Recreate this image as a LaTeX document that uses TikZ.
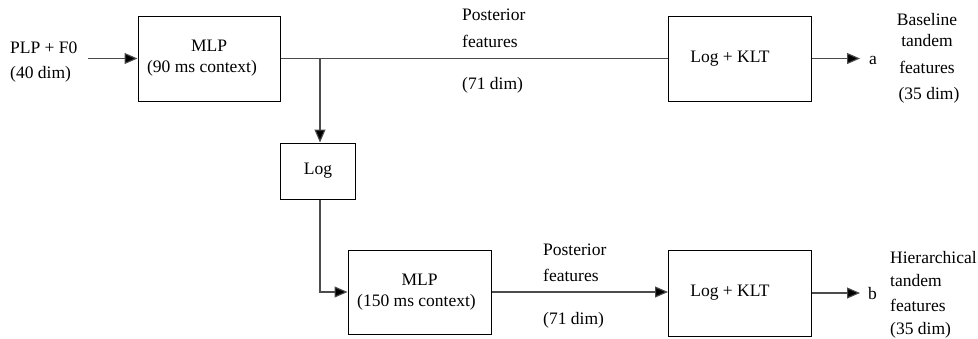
\documentclass[tikz,border=0pt]{standalone}
\usepackage{fontspec}
\setmainfont{Liberation Serif}
\usetikzlibrary{arrows.meta}
\begin{document}
\begin{tikzpicture}[x=1pt,y=-1pt,
  font=\fontsize{17.5}{21}\selectfont,
  blk/.style={draw=black,line width=1pt,rectangle,inner sep=0pt,align=center},
  conn/.style={draw=black!70,line width=1.1pt},
  arr/.style={conn,-{Triangle[length=13pt,width=11pt,fill=black]}},
  txt/.style={inner sep=0pt,anchor=base west}]
\useasboundingbox (0,0) rectangle (978,338);
% boxes
\node[blk,minimum width=142pt,minimum height=85pt] (mlp1) at (209,58.5) {MLP\\(90 ms context)\hspace*{14pt}};
\node[blk,minimum width=143pt,minimum height=85pt] (klt1) at (740,58.5) {Log + KLT\hspace*{20pt}};
\node[blk,minimum width=75pt,minimum height=56pt] (log) at (318,171) {Log};
\node[blk,minimum width=143pt,minimum height=84pt] (mlp2) at (419.5,292) {MLP\\(150 ms context)\hspace*{6pt}};
\node[blk,minimum width=143pt,minimum height=86pt] (klt2) at (740,293) {Log + KLT\hspace*{20pt}};
% input text
\node[txt] (plp) at (10,53) {PLP + F0};
\node[txt] (dim40) at (10,78) {(40 dim)};
\coordinate (in) at (88,58.5);
% top posterior labels
\node[txt] (post1) at (462,20) {Posterior};
\node[txt] (feat1) at (462,47) {features};
\node[txt] (dim71a) at (462,89) {(71 dim)};
% bottom posterior labels
\node[txt] (post2) at (543,255) {Posterior};
\node[txt] (feat2) at (543,281) {features};
\node[txt] (dim71b) at (543,324) {(71 dim)};
% outputs
\coordinate (aend) at (860,58.5);
\coordinate (bend) at (860,293);
\node[txt] (alab) at (869,64) {a};
\node[txt] (blab) at (868,299) {b};
\node[inner sep=0pt,anchor=base] (bl1) at (927,25) {Baseline};
\node[inner sep=0pt,anchor=base] (bl2) at (927,46) {tandem};
\node[inner sep=0pt,anchor=base] (bl3) at (927,73) {features};
\node[inner sep=0pt,anchor=base] (bl4) at (929,99) {(35 dim)};
\node[txt] (hi1) at (890,263) {Hierarchical};
\node[txt] (hi2) at (890,286) {tandem};
\node[txt] (hi3) at (890,311) {features};
\node[txt] (hi4) at (890,334) {(35 dim)};
% connectors
\coordinate (br) at (320,58.5);
\coordinate (lc) at (320,292);
\draw[arr] (in) -- (mlp1.west);
\draw[conn] (mlp1.east) -- (klt1.west);
\draw[arr] (br) -- (br |- log.north);
\draw[arr] (log.south -| lc) -- (lc) -- (mlp2.west);
\draw[arr] (mlp2.east) -- (mlp2.east -| klt2.west);
\draw[arr] (klt1.east) -- (aend);
\draw[arr] (klt2.east) -- (bend);
\end{tikzpicture}
\end{document}
